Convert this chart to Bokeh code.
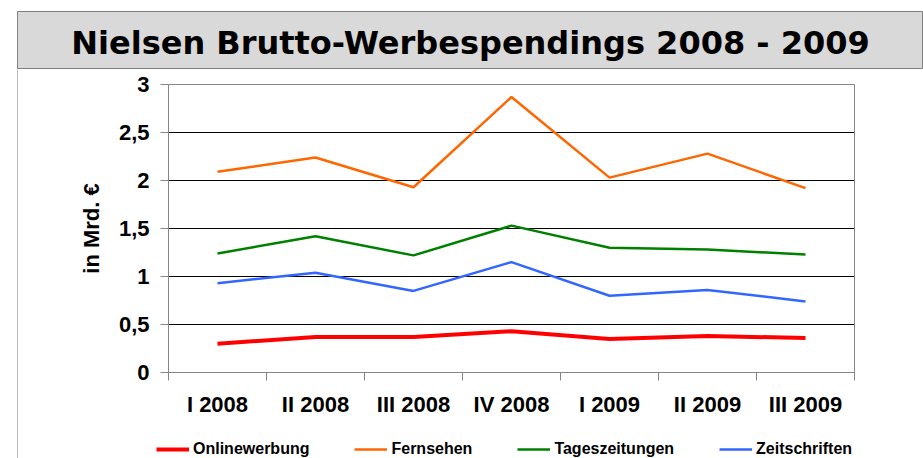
from bokeh.plotting import figure
from bokeh.layouts import column, row
from bokeh.models import (Range1d, LinearAxis, FixedTicker, Legend, LegendItem,
                          Label, Grid)
from bokeh.embed import file_html
from bokeh.resources import INLINE

categories = ["I 2008", "II 2008", "III 2008", "IV 2008", "I 2009", "II 2009", "III 2009"]
onlinewerbung = [0.30, 0.37, 0.37, 0.43, 0.35, 0.38, 0.36]
fernsehen = [2.09, 2.24, 1.93, 2.87, 2.03, 2.28, 1.92]
tageszeitungen = [1.24, 1.42, 1.22, 1.53, 1.30, 1.28, 1.23]
zeitschriften = [0.93, 1.04, 0.85, 1.15, 0.80, 0.86, 0.74]
y_ticks = [0, 0.5, 1, 1.5, 2, 2.5, 3]
y_tick_labels = ["0", "0,5", "1", "1,5", "2", "2,5", "3"]
title_text = "Nielsen Brutto-Werbespendings 2008 - 2009"
y_label = "in Mrd. €"

n = len(categories)
xs = [i + 0.5 for i in range(n)]
boundaries = list(range(n + 1))

AXIS_GRAY = "#868686"
BOX_GRAY = "#808080"
FONT = "Liberation Sans"

series = [
    ("Onlinewerbung", onlinewerbung, "#ff0000", 4),
    ("Fernsehen", fernsehen, "#ff6600", 2.5),
    ("Tageszeitungen", tageszeitungen, "#008000", 2.5),
    ("Zeitschriften", zeitschriften, "#3366ff", 2.5),
]

# ---- title band ----
t = figure(width=923, height=69, output_backend="svg", toolbar_location=None,
           x_range=Range1d(0, 1), y_range=Range1d(0, 1),
           x_axis_type=None, y_axis_type=None,
           min_border_left=17, min_border_right=0, min_border_top=11, min_border_bottom=0,
           background_fill_color="#d9d9d9", border_fill_color="white",
           outline_line_color=BOX_GRAY, outline_line_width=1)
t.add_layout(Label(x=0.5, y=0.455, text=title_text,
                   text_font="DejaVu Sans", text_font_style="bold", text_font_size="32px",
                   text_align="center", text_baseline="middle", text_color="black"))

# ---- left edge of the chart box ----
s = figure(width=18, height=389, output_backend="svg", toolbar_location=None,
           x_range=Range1d(0, 1), y_range=Range1d(0, 1),
           x_axis_type=None, y_axis_type=None,
           min_border_left=17, min_border_right=0, min_border_top=0, min_border_bottom=0,
           background_fill_color=BOX_GRAY, border_fill_color="white",
           outline_line_color=None)

# ---- main chart ----
p = figure(width=905, height=368, output_backend="svg", toolbar_location=None,
           x_range=Range1d(0, n), y_range=Range1d(0, y_ticks[-1]),
           x_axis_type=None, y_axis_type=None,
           min_border_left=150, min_border_right=69,
           min_border_top=15, min_border_bottom=65,
           background_fill_color="white", border_fill_color="white",
           outline_line_color=AXIS_GRAY, outline_line_width=1)

p.add_layout(Grid(dimension=1, ticker=FixedTicker(ticks=y_ticks[1:-1]),
                  grid_line_color="#000000", grid_line_width=1))

yaxis = LinearAxis(ticker=FixedTicker(ticks=y_ticks),
                   major_label_overrides=dict(zip(y_ticks, y_tick_labels)),
                   axis_label=y_label,
                   axis_line_color=AXIS_GRAY, major_tick_line_color=AXIS_GRAY,
                   major_tick_out=8, major_tick_in=0,
                   minor_tick_line_color=None,
                   major_label_standoff=11, axis_label_standoff=12,
                   major_label_text_font=FONT, major_label_text_font_style="bold",
                   major_label_text_font_size="22px", major_label_text_color="black",
                   axis_label_text_font=FONT, axis_label_text_font_style="bold",
                   axis_label_text_font_size="22px", axis_label_text_color="black")
p.add_layout(yaxis, "left")

xaxis = LinearAxis(ticker=FixedTicker(ticks=xs, minor_ticks=boundaries),
                   major_label_overrides=dict(zip(xs, categories)),
                   axis_line_color=AXIS_GRAY,
                   major_tick_out=0, major_tick_in=0, major_tick_line_color=None,
                   minor_tick_out=8, minor_tick_in=0, minor_tick_line_color=AXIS_GRAY,
                   major_label_standoff=11,
                   major_label_text_font=FONT, major_label_text_font_style="bold",
                   major_label_text_font_size="22px", major_label_text_color="black")
p.add_layout(xaxis, "below")

for name, vals, color, lw in series:
    p.line(xs, vals, line_color=color, line_width=lw)

# ---- legend strip: same series, drawn outside its visible range, used only as keys ----
lg = figure(width=905, height=21, output_backend="svg", toolbar_location=None,
            x_range=Range1d(0, n), y_range=Range1d(-10, -9),
            x_axis_type=None, y_axis_type=None,
            min_border_left=0, min_border_right=0, min_border_top=0, min_border_bottom=0,
            background_fill_color="white", border_fill_color="white",
            outline_line_color=None)
items = []
for name, vals, color, lw in series:
    key = lg.line(xs, vals, line_color=color, line_width=lw)
    items.append(LegendItem(label=name, renderers=[key]))
legend = Legend(items=items, orientation="horizontal", location=(138, 0),
                spacing=45, glyph_width=33, glyph_height=18, label_height=18,
                label_standoff=4, padding=0, margin=0, border_line_color=None,
                background_fill_alpha=0,
                label_text_font=FONT, label_text_font_style="bold",
                label_text_font_size="16px", label_text_color="black")
lg.add_layout(legend)

layout = column(t, row(s, column(p, row(lg, spacing=0), spacing=0), spacing=0), spacing=0)

open("out.html", "w").write(file_html(layout, INLINE))
